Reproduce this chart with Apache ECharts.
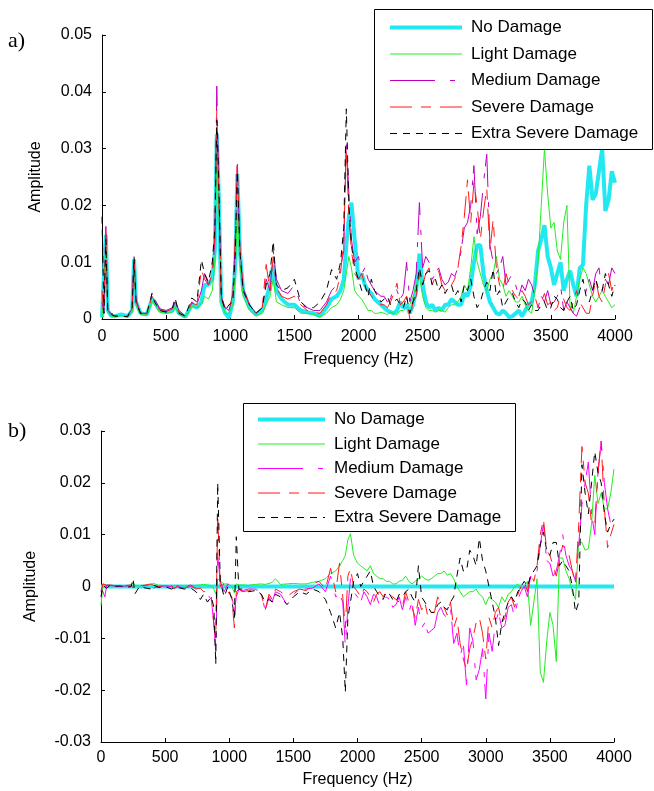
<!DOCTYPE html>
<html>
<head>
<meta charset="utf-8">
<script src="https://cdn.jsdelivr.net/npm/echarts@6/dist/echarts.min.js"></script>
<style>html,body{margin:0;padding:0;background:#fff}#c{width:654px;height:791px}</style>
</head>
<body>
<div id="c"></div>
<script>
// Frequency grid (Hz), shared by all series
const frequencies = [0,15,30,45,70,100,150,200,235,250,
265,300,350,390,410,450,500,550,570,600,
650,700,740,775,800,830,860,880,895,910,
930,960,990,1020,1040,1055,1075,1100,1150,1200,
1250,1280,1310,1335,1360,1400,1450,1500,1550,1600,
1650,1700,1750,1790,1830,1860,1885,1905,1925,1945,
1970,
2000,2025,2050,2075,2100,2125,2150,2175,
2200,2225,2250,2275,2300,2325,2350,2375,
2400,2425,2450,2475,2500,2525,2550,2575,
2600,2625,2650,2675,2700,2725,2750,2775,
2800,2825,2850,2875,2900,2925,2950,2975,
3000,3025,3050,3075,3100,3125,3150,3175,
3200,3225,3250,3275,3300,3325,3350,3375,
3400,3425,3450,3475,3500,3525,3550,3575,
3600,3625,3650,3675,3700,3725,3750,3775,
3800,3825,3850,3875,3900,3925,3950,3975,
4000];

const seriesNames = ['No Damage','Light Damage','Medium Damage','Severe Damage','Extra Severe Damage'];

// Panel a) amplitude spectra
const noDamageA = [0.0003,0.0005,0.0148,0.0015,0.0006,0.0005,0.0008,0.0005,0.0015,0.0105,
0.003,0.001,0.0008,0.0035,0.003,0.0015,0.0012,0.0015,0.0025,0.001,
0.0004,0.0025,0.002,0.003,0.006,0.006,0.007,0.012,0.0325,0.022,
0.003,0.001,0.0002,0.003,0.01,0.0255,0.012,0.005,0.002,0.0008,
0.0015,0.0035,0.006,0.0095,0.005,0.0035,0.0025,0.0025,0.0015,0.0012,
0.001,0.0005,0.002,0.0035,0.004,0.005,0.007,0.013,0.018,0.0205,
0.014,
0.007,0.008,0.006,0.005,0.0045,0.0035,0.003,0.0025,
0.002,0.0015,0.0012,0.001,0.0015,0.003,0.002,0.0025,
0.001,0.0025,0.005,0.0115,0.006,0.003,0.002,0.0025,
0.0015,0.002,0.0015,0.0025,0.0025,0.0035,0.003,0.0025,
0.0025,0.0045,0.004,0.006,0.01,0.013,0.013,0.008,
0.005,0.003,0.002,0.001,0.0008,0.0015,0.001,0.0003,
0.0005,0.001,0.0015,0.0005,0.0015,0.0025,0.003,0.006,
0.012,0.014,0.0165,0.011,0.009,0.006,0.008,0.01,
0.005,0.007,0.0085,0.006,0.004,0.009,0.0095,0.02,
0.027,0.021,0.022,0.026,0.03,0.019,0.021,0.026,
0.024];
const lightA = [0.0003,0.0005,0.013,0.0012,0.0005,0.0004,0.0006,0.0004,0.0012,0.009,
0.0025,0.0008,0.0007,0.003,0.0025,0.0012,0.001,0.0012,0.0022,0.0008,
0.0003,0.0022,0.002,0.0025,0.004,0.0035,0.005,0.01,0.03,0.02,
0.003,0.001,0.001,0.0025,0.008,0.02,0.01,0.004,0.0015,0.0005,
0.001,0.0025,0.004,0.007,0.003,0.0025,0.002,0.002,0.001,0.001,
0.0008,0.0004,0.001,0.002,0.0025,0.0035,0.005,0.008,0.011,0.009,
0.005,
0.004,0.0035,0.0025,0.0015,0.0015,0.001,0.001,0.0012,
0.001,0.0008,0.0012,0.001,0.0008,0.0015,0.0015,0.002,
0.0025,0.004,0.006,0.0075,0.004,0.002,0.0015,0.0015,
0.0012,0.0015,0.0015,0.0012,0.002,0.0025,0.0025,0.003,
0.004,0.006,0.005,0.009,0.0145,0.01,0.008,0.006,
0.005,0.007,0.008,0.011,0.007,0.006,0.004,0.005,
0.004,0.003,0.003,0.004,0.0025,0.0015,0.001,0.005,
0.01,0.02,0.03,0.022,0.016,0.017,0.012,0.0105,
0.017,0.02,0.002,0.001,0.004,0.007,0.009,0.008,
0.006,0.004,0.003,0.004,0.005,0.004,0.003,0.002,
0.0025];
const mediumA = [0.003,0.001,0.0163,0.0015,0.001,0.0008,0.0005,0.0005,0.002,0.0113,
0.0035,0.001,0.001,0.0045,0.0035,0.0018,0.0015,0.002,0.003,0.0015,
0.0005,0.003,0.0025,0.005,0.008,0.006,0.0075,0.014,0.041,0.023,
0.004,0.002,0.0015,0.004,0.014,0.027,0.013,0.0055,0.0025,0.001,
0.002,0.007,0.005,0.012,0.007,0.005,0.0045,0.006,0.0025,0.002,
0.0015,0.0015,0.003,0.005,0.006,0.009,0.012,0.032,0.022,0.014,
0.01,
0.011,0.008,0.009,0.007,0.006,0.005,0.0045,0.004,
0.004,0.003,0.0035,0.006,0.005,0.0035,0.0045,0.01,
0.003,0.005,0.008,0.0205,0.009,0.011,0.01,0.007,
0.008,0.009,0.007,0.006,0.0065,0.008,0.0075,0.009,
0.012,0.016,0.017,0.02,0.027,0.015,0.018,0.024,
0.029,0.013,0.01,0.008,0.009,0.011,0.006,0.007,
0.008,0.006,0.004,0.006,0.005,0.007,0.006,0.004,
0.002,0.004,0.003,0.005,0.0025,0.003,0.004,0.006,
0.0015,0.003,0.002,0.001,0.0005,0.002,0.003,0.005,
0.007,0.005,0.008,0.009,0.005,0.007,0.006,0.009,
0.008];
const severeA = [0.005,0.001,0.015,0.0015,0.0008,0.0006,0.0005,0.0006,0.0018,0.0105,
0.003,0.001,0.0009,0.004,0.0032,0.0016,0.0013,0.0018,0.0028,0.0012,
0.0005,0.0028,0.0025,0.0087,0.007,0.006,0.008,0.015,0.037,0.022,
0.0035,0.002,0.0015,0.0045,0.015,0.028,0.013,0.005,0.0025,0.001,
0.002,0.0096,0.005,0.011,0.0055,0.004,0.0035,0.004,0.0025,0.0015,
0.0012,0.001,0.0025,0.0045,0.005,0.008,0.014,0.03,0.018,0.012,
0.008,
0.007,0.008,0.006,0.005,0.004,0.0035,0.003,0.0025,
0.0025,0.002,0.003,0.0045,0.0063,0.0025,0.003,0.004,
0,0.003,0.004,0.008,0.006,0.008,0.009,0.006,
0.0075,0.0085,0.006,0.005,0.005,0.006,0.007,0.009,
0.0128,0.018,0.0245,0.017,0.024,0.02,0.014,0.019,
0.023,0.012,0.0175,0.009,0.006,0.005,0.008,0.006,
0.005,0.004,0.0035,0.005,0.004,0.0025,0.003,0.004,
0.002,0.003,0.0045,0.0025,0.003,0.0015,0.002,0.004,
0.0035,0.002,0.0015,0.003,0.005,0.003,0.002,0.001,
0.001,0.004,0.007,0.004,0.003,0.006,0.008,0.005,
0.007];
const extraA = [0.018,0.001,0.014,0.0015,0.0008,0.0005,0.0005,0.0004,0.002,0.011,
0.003,0.001,0.001,0.0045,0.003,0.0015,0.0012,0.002,0.0037,0.001,
0.0005,0.0037,0.003,0.0104,0.008,0.0065,0.01,0.016,0.035,0.025,
0.004,0.0015,0.0025,0.003,0.012,0.026,0.012,0.005,0.0025,0.001,
0.002,0.006,0.008,0.0137,0.006,0.005,0.0055,0.007,0.003,0.002,
0.002,0.003,0.005,0.0087,0.007,0.01,0.016,0.037,0.02,0.013,
0.009,
0.007,0.005,0.006,0.004,0.007,0.005,0.004,0.003,
0.0035,0.004,0.0025,0.003,0.0035,0.0025,0.002,0.004,
0.001,0.003,0.005,0.009,0.006,0.008,0.0085,0.006,
0.007,0.005,0.006,0.0045,0.0055,0.006,0.004,0.005,
0.003,0.006,0.005,0.007,0.004,0.002,0.003,0.005,
0.0065,0.005,0.0088,0.004,0.005,0.002,0.003,0.004,
0.0045,0.003,0.002,0.0035,0.003,0.0015,0.0025,0.0015,
0.0015,0.0025,0.003,0.0015,0.002,0.004,0.0035,0.002,
0.0015,0.003,0.004,0.0015,0.0025,0.005,0.007,0.004,
0.003,0.005,0.007,0.005,0.005,0.008,0.006,0.004,
0.006];

// Panel b) differences from the undamaged spectrum
const noDamageBFreq = [0,4000];
const noDamageB = [0,0];
const lightB = [-0.0037,0.0005,0.0008,0.0003,0.0002,0.0001,0.0002,0.0001,0.0002,0.0008,
0.0002,0.0001,0.0002,0.0004,0.0006,0.0002,0.0002,0.0001,0.0002,0.0002,
0.0001,0.0002,0.0002,0.0003,0.0004,0.0003,0.0001,-0.0005,-0.0015,0.0015,
0.001,0.0005,0.0005,0,-0.0012,0.0005,0.0003,0.0003,0.0002,0.0004,
0.0005,0.0004,0.0006,0.0008,0.0015,0.0004,0.0005,0.0006,0.0005,0.0005,
0.0008,0.001,0.0015,0.0025,0.003,0.004,0.005,0.006,0.009,0.0102,
0.006,
0.0045,0.004,0.0035,0.003,0.004,0.0025,0.002,0.0015,
0.0015,0.001,0.001,0.0005,0.0005,0.001,0.0012,0.002,
0.001,0.0005,0.001,0.0015,0.002,0.0015,0.0012,0.0015,
0.002,0.0025,0.0025,0.003,0.0022,0.0025,0.0015,0,
-0.001,-0.002,-0.0015,-0.001,-0.001,-0.0005,-0.0015,-0.002,
-0.0035,-0.002,-0.0025,-0.003,-0.004,-0.002,-0.003,-0.0015,
-0.001,0,0.0005,-0.0005,0,0.001,-0.0075,-0.003,
0.0015,-0.0165,-0.0185,-0.0107,-0.005,-0.0075,-0.0145,0.0055,
0.0055,0.003,0.0015,-0.001,-0.0025,0.0085,0.0085,0.007,
0.0073,0.012,0.0215,0.016,0.018,0.015,0.015,0.018,
0.0227];
const mediumB = [-0.0005,-0.001,-0.002,0.0003,0.0002,0.0001,0,0.0001,0,-0.0005,
0.0001,0,0.0002,0.0003,-0.0003,0,0.0001,0,-0.0003,0,
-0.0003,0,-0.0003,-0.0005,-0.001,-0.0015,-0.0025,-0.007,-0.0127,0.006,
0.001,-0.001,0.0005,-0.0015,-0.005,-0.002,-0.0005,-0.0008,-0.0005,-0.0005,
-0.001,-0.0048,-0.002,-0.003,-0.001,-0.0015,-0.0035,-0.0015,-0.0005,-0.0005,
-0.0003,0.0005,-0.001,0.002,-0.002,-0.0015,-0.003,-0.0115,-0.004,0.0015,
-0.001,
-0.002,-0.003,-0.001,-0.002,-0.0035,-0.0015,-0.002,-0.004,
-0.003,-0.002,-0.0025,-0.004,-0.0035,-0.002,-0.0045,-0.002,
-0.005,-0.003,-0.0075,-0.004,-0.008,-0.007,-0.009,-0.0085,
-0.008,-0.005,-0.004,-0.0055,-0.006,-0.004,-0.011,-0.009,
-0.0135,-0.011,-0.019,-0.008,-0.0105,-0.018,-0.016,-0.012,
-0.0217,-0.009,-0.0125,-0.007,-0.005,-0.008,-0.0075,-0.004,
-0.0035,-0.006,-0.0025,-0.001,0,-0.002,0.002,0.001,
0.003,0.008,0.012,0.005,0.0045,0.002,0.003,0.006,
0.01,0.006,0.004,0.003,0.001,0.008,0.0158,0.02,
0.024,0.014,0.01,0.022,0.028,0.02,0.015,0.012,
0.013];
const severeB = [-0.001,0.0005,0.0003,0.0002,0.0003,0.0002,0,0.0002,0.0003,-0.0003,
0.0002,0.0001,0.0003,0.0005,0.0002,0,0.0001,0.0002,-0.0005,0.0002,
-0.0002,0.0003,-0.0005,-0.0003,-0.001,-0.001,-0.002,-0.0075,-0.01,0.0138,
0,0.0005,-0.001,-0.002,-0.008,-0.001,-0.0005,-0.001,-0.0008,-0.0005,
-0.0015,-0.0045,-0.0015,-0.0025,-0.0005,-0.001,-0.002,-0.001,-0.0005,-0.0008,
0.0005,0.001,-0.0005,0.0035,-0.001,0.0045,-0.002,-0.008,0.002,0.0035,
0,
-0.001,-0.002,-0.0005,-0.001,-0.002,-0.003,-0.0015,-0.001,
-0.002,-0.001,-0.0015,-0.002,-0.0025,-0.003,-0.004,-0.001,
-0.003,-0.004,-0.006,-0.0025,-0.0045,-0.003,-0.006,-0.005,
-0.005,-0.002,-0.0035,-0.004,-0.0055,-0.003,-0.008,-0.006,
-0.011,-0.014,-0.016,-0.012,-0.01,-0.007,-0.006,-0.009,
-0.014,-0.006,-0.008,-0.005,-0.004,-0.007,-0.006,-0.003,
-0.002,-0.004,-0.0015,0,0.001,-0.001,0.0025,0.001,
0.004,0.01,0.013,0.007,0.006,0.004,0.002,0.005,
0.008,0.007,0.006,0.003,0.0005,0.012,0.027,0.02,
0.018,0.012,0.012,0.022,0.028,0.015,0.0075,0.01,
0.012];
const extraB = [-0.002,0.0002,0,-0.0003,0.0002,0,0.0001,-0.0002,0,0.0015,
-0.0014,0,-0.0003,-0.0005,0.0003,-0.0002,0,-0.0005,-0.0003,-0.0002,
-0.0005,-0.0003,-0.001,-0.0025,-0.0015,-0.003,-0.002,-0.004,-0.015,0.02,
0.001,-0.002,0,-0.0025,-0.006,0.0096,-0.0005,-0.0005,-0.001,-0.0008,
-0.0015,-0.003,-0.0025,-0.003,-0.0015,-0.002,-0.0035,-0.002,-0.001,-0.0015,
-0.0005,-0.001,-0.0025,-0.005,-0.008,-0.005,-0.01,-0.0204,-0.006,-0.003,
0.001,
0.0025,0,0.001,0.002,0.003,0,-0.001,-0.002,
-0.0025,-0.001,-0.0015,-0.0025,-0.003,-0.0015,-0.002,-0.001,
-0.0005,-0.002,-0.003,0.004,-0.002,-0.003,-0.004,-0.005,
-0.005,-0.0035,-0.003,-0.004,-0.0045,-0.003,-0.002,0.002,
0.0055,0.003,0.003,0.007,0.006,0.004,0.0093,0.005,
0.003,0,-0.003,-0.006,-0.0114,-0.007,-0.005,-0.003,
-0.002,-0.003,-0.001,0,0.001,0,0.002,0.003,
0.004,0.008,0.0105,0.007,0.006,0.0085,0.0085,0.004,
0.005,0.004,0.003,0,-0.005,-0.003,0.0235,0.018,
0.014,0.02,0.026,0.022,0.02,0.014,0.0105,0.012,
0.013];

const FONT = 'Liberation Sans';
const colorsA = ['#22e8f2','#22ee22','#c000c0','#ff1a1a','#000000'];
const colorsB = ['#22e8f2','#22ee22','#ff00ff','#ff1a1a','#000000'];
const widths = [4,1,1,1,1];
const dashes = ['solid','solid',[45,15,5,7],[22,9,10,9],[7,6]];

function pairs(xs, ys){ return xs.map((x,i)=>[x, ys[i]]); }

const dataA = [noDamageA, lightA, mediumA, severeA, extraA].map(v=>pairs(frequencies, v));
const dataB = [pairs(noDamageBFreq, noDamageB), pairs(frequencies, lightB), pairs(frequencies, mediumB), pairs(frequencies, severeB), pairs(frequencies, extraB)];

const series = [];
seriesNames.forEach((n,i)=>{
  series.push({name:n, type:'line', xAxisIndex:0, yAxisIndex:0, data:dataA[i], symbol:'none', showSymbol:false,
    z:2+i, lineStyle:{color:colorsA[i], width:widths[i], type:dashes[i]}, itemStyle:{color:colorsA[i]}, silent:true});
});
seriesNames.forEach((n,i)=>{
  series.push({name:n, type:'line', xAxisIndex:1, yAxisIndex:1, data:dataB[i], symbol:'none', showSymbol:false,
    z:2+i, lineStyle:{color:colorsB[i], width:widths[i], type:dashes[i]}, itemStyle:{color:colorsB[i]}, silent:true});
});

function xAx(grid, gap, margin){
  return {gridIndex:grid, type:'value', min:0, max:4000, interval:500,
    name:'Frequency (Hz)', nameLocation:'middle', nameGap:gap,
    nameTextStyle:{fontFamily:FONT, fontSize:16, color:'#000'},
    axisLine:{show:true, onZero:false, lineStyle:{color:'#000', width:1}},
    axisTick:{show:true, inside:true, length:4, lineStyle:{color:'#000'}},
    axisLabel:{fontFamily:FONT, fontSize:16, color:'#000', margin:margin, formatter:(v)=>String(v)},
    splitLine:{show:false}};
}
function yAx(grid, min, max, gap){
  return {gridIndex:grid, type:'value', min:min, max:max, interval:0.01,
    name:'Amplitude', nameLocation:'middle', nameGap:gap, nameRotate:90,
    nameTextStyle:{fontFamily:FONT, fontSize:16, color:'#000'},
    axisLine:{show:true, onZero:false, lineStyle:{color:'#000', width:1}},
    axisTick:{show:true, inside:true, length:4, lineStyle:{color:'#000'}},
    axisLabel:{fontFamily:FONT, fontSize:16, color:'#000', margin:10},
    splitLine:{show:false}};
}
function legend(left, top, w, gap, colors){
  return {orient:'vertical', left:left, top:top, padding:0, itemWidth:w, itemHeight:14, itemGap:gap,
    selectedMode:false, z:30,
    textStyle:{fontFamily:FONT, fontSize:17, color:'#000', lineHeight:14, padding:[0,0,0,4]},
    data: seriesNames.map((n,i)=>({name:n,
      lineStyle:{color:colors[i], width:widths[i], type:dashes[i]}, itemStyle:{color:colors[i], opacity:0}}))};
}

const chart = echarts.init(document.getElementById('c'), null, {renderer:'canvas'});
chart.setOption({
  animation:false,
  backgroundColor:'#fff',
  grid:[{left:102, top:35, width:513, height:284}, {left:101, top:431, width:513, height:311}],
  xAxis:[xAx(0, 33, 10), xAx(1, 30, 8)],
  yAxis:[yAx(0, 0, 0.05, 58), yAx(1, -0.03, 0.03, 62)],
  legend:[legend(388, 19, 72, 9.5, colorsA), legend(256, 411, 67, 7.5, colorsB)],
  graphic:[
    {type:'rect', shape:{x:374.5, y:9.5, width:278, height:140}, style:{fill:'#fff', stroke:'#000', lineWidth:1}, z:10, silent:true},
    {type:'rect', shape:{x:243.5, y:403.5, width:272, height:128}, style:{fill:'#fff', stroke:'#000', lineWidth:1}, z:10, silent:true},
    {type:'text', left:8, top:30, style:{text:'a)', font:'22px "Liberation Serif"', fill:'#000'}, z:20},
    {type:'text', left:8, top:420, style:{text:'b)', font:'22px "Liberation Serif"', fill:'#000'}, z:20}
  ],
  series:series
});
</script>
</body>
</html>
